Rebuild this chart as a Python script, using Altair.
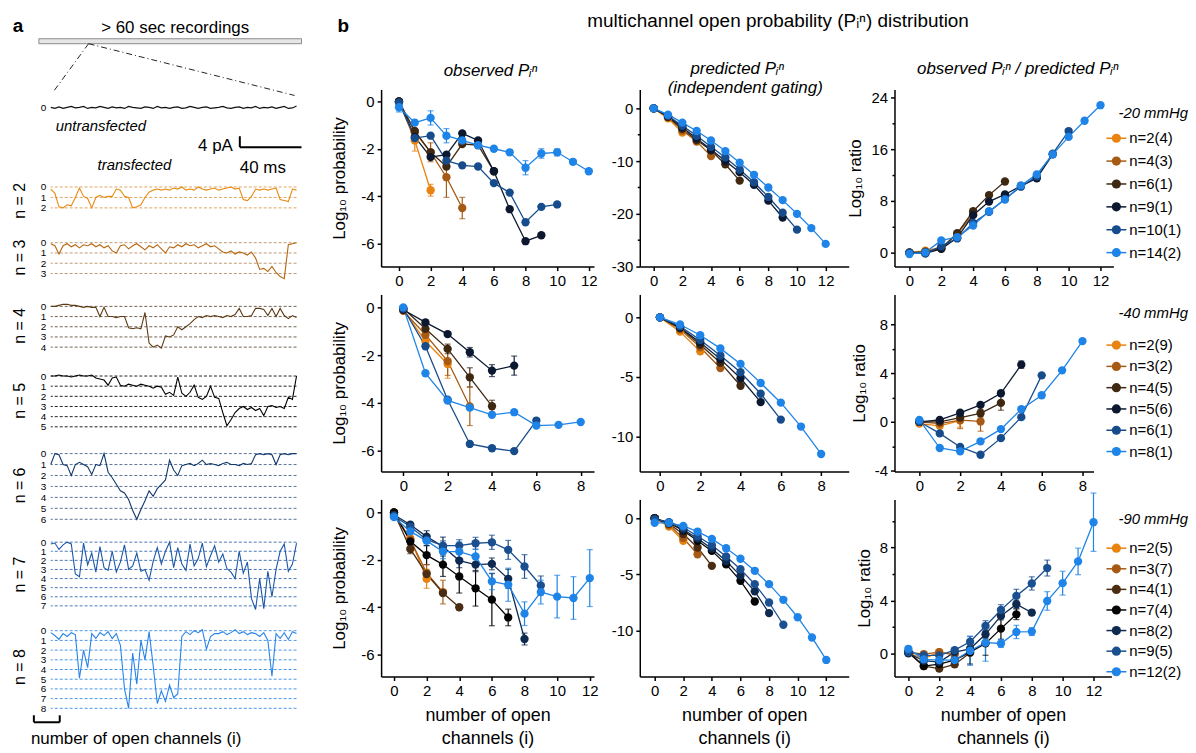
import altair as alt
import pandas as pd

FONT = "Liberation Sans"

# ---------------- panel a : traces (number of open channels vs time, ms) ----------------
T_END = 165
UNT = [0.0, 0.1, -0.05, 0.1, 0.0, -0.1, 0.05, 0.0, -0.1, 0.1, 0.0, 0.05, -0.1, 0.0, 0.1, -0.05,
       0.05, 0.0, 0.1, -0.1, 0.0, 0.05, 0.1, -0.05, 0.0, 0.1, -0.1, 0.05, 0.0, 0.1, 0.0, -0.05,
       0.1, 0.05, -0.1, 0.0, 0.1, 0.0, -0.05, 0.1, 0.05, 0.0, -0.1, 0.05, 0.1, 0.0, -0.05, 0.1,
       0.0, 0.05, -0.1, 0.1, 0.0, 0.05, -0.05, 0.1, 0.0, -0.1, 0.1, 0.05, -0.15]
TR2 = [0.2, 0.6, 1.9, 2.0, 1.7, 1.8, 1.0, 0.1, 0.9, 1.1, 2.0, 1.0, 0.8, 1.0, 0.9, 0.9, 0.2, 0.3,
       0.9, 1.0, 2.0, 1.9, 1.7, 1.0, 0.5, 0.3, 0.2, 0.3, 0.2, 0.3, 0.1, 0.2, 0.0, 0.3, 0.2, 0.3,
       0.0, 0.2, 0.3, 0.2, 0.1, 0.3, 0.2, 0.1, 0.0, 0.2, 0.1, 1.2, 1.3, 0.9, 0.2, 0.3, 0.2, 0.3,
       0.2, 0.1, 1.2, 1.3, 1.4, 0.2, 0.3]
TR3 = [0.1, 0.3, 1.1, 0.3, 0.1, 0.4, 0.2, 0.5, 0.2, 0.3, 0.1, 0.4, 0.2, 0.5, 0.3, 0.8, 1.0, 0.3,
       0.2, 0.6, 0.3, 0.1, 0.4, 0.7, 0.3, 0.5, 0.2, 0.6, 1.0, 0.4, 0.5, 0.2, 0.4, 0.1, 0.3, 0.2,
       0.5, 0.3, 0.1, 0.4, 0.3, 0.6, 0.9, 1.0, 0.8, 1.1, 0.9, 1.0, 1.2, 0.9, 1.5, 2.6, 2.5, 2.8,
       2.3, 2.9, 3.3, 3.5, 0.2, 0.1, 0.0]
TR4 = [0.0, 0.0, -0.1, -0.2, -0.2, -0.1, -0.1, 0.0, 0.1, 0.0, 0.1, 0.1, 1.0, 0.1, 1.0, 1.0, 1.1,
       1.0, 1.0, 2.1, 2.2, 2.1, 2.2, 0.6, 3.6, 4.0, 3.8, 4.1, 2.9, 3.0, 2.8, 2.0, 2.3, 2.0, 1.7,
       1.3, 1.0, 1.1, 0.9, 1.0, 0.9, 1.0, 1.1, 0.9, 1.0, 0.8, 0.2, 1.0, 1.0, 0.9, 0.2, 0.2, 0.3,
       0.9, 0.2, 1.0, 0.2, 0.9, 1.2, 0.9, 1.1]
TR5 = [0.0, 0.0, -0.1, 0.0, 0.0, 0.1, 0.0, -0.1, 0.0, 0.0, -0.1, 0.2, 0.3, 0.4, 0.9, 0.2, 0.1,
       0.9, 1.0, 0.8, 0.9, 1.0, 0.8, 0.9, 1.0, 1.2, 1.0, 1.1, 1.8, 1.6, 1.9, 0.1, 1.7, 2.0, 1.6,
       0.9, 2.1, 2.3, 2.0, 1.0, 2.1, 2.2, 3.6, 4.9, 4.3, 3.6, 3.2, 3.0, 3.3, 3.1, 3.4, 3.2, 3.9,
       3.0, 2.9, 3.1, 3.0, 3.2, 2.1, 2.3, 0.0]
TR6 = [1.0, 0.0, 0.1, 1.0, 1.1, 2.0, 1.0, 0.8, 1.0, 1.2, 1.9, 1.0, 1.1, 0.0, 1.7, 2.2, 2.8, 3.4,
       3.6, 4.2, 5.2, 6.0, 5.1, 4.3, 3.4, 3.9, 3.2, 2.8, 2.4, 0.6, 1.5, 2.0, 1.1, 1.0, 0.9, 1.1,
       0.9, 0.6, 1.0, 0.9, 1.0, 1.1, 0.9, 0.8, 1.0, 1.0, 1.1, 0.9, 1.0, 0.9, 0.1, 0.0, 0.1, 0.0,
       0.1, 1.0, 0.1, 0.0, 0.1, 0.0, 0.0]
TR7 = [0.2, 0.1, 0.8, 0.3, 0.0, 0.2, 3.5, 3.8, 0.1, 2.5, 1.2, 3.3, 0.5, 2.8, 3.1, 1.0, 3.3, 2.2,
       0.3, 3.0, 2.6, 1.2, 3.2, 3.0, 4.2, 2.1, 0.6, 2.4, 1.0, 0.0, 2.8, 0.6, 2.4, 3.1, 0.2, 2.6,
       1.8, 0.1, 2.7, 1.5, 0.4, 2.2, 1.3, 2.9, 3.3, 4.0, 1.0, 3.4, 2.2, 6.2, 7.4, 4.0, 7.3, 3.2,
       6.0, 3.0, 1.0, 0.2, 3.2, 2.4, 0.1]
TR8 = [0.2, 0.5, 0.9, 0.3, 0.6, 0.2, 0.4, 4.9, 2.0, 3.8, 0.3, 0.8, 0.2, 0.5, 0.1, 0.8, 0.3, 1.5,
       6.0, 8.0, 2.3, 5.5, 1.0, 3.0, 0.1, 3.6, 7.5, 6.2, 7.3, 5.6, 6.9, 6.5, 0.6, 0.1, 0.4, 0.0,
       0.2, -0.1, 1.9, 0.6, 0.3, 0.3, 0.1, 0.4, 0.2, -0.1, 0.3, 0.1, 0.4, 0.2, 0.3, 0.6, 0.2, 1.0,
       4.7, 0.3, 0.8, 0.2, 0.9, 0.1, 0.3]

# ---------------- panel b data : -20 mmHg ----------------
LEG20 = ["n=2(4)", "n=4(3)", "n=6(1)", "n=9(1)", "n=10(1)", "n=14(2)"]
COL20 = ["#E8830F", "#A65A14", "#3F2812", "#0B1830", "#174C8C", "#1F84E8"]
OBS20 = {2: [0.0, -1.65, -3.75],
         4: [-0.05, -1.3, -2.15, -3.2, -4.5],
         6: [0.0, -1.25, -2.15, -2.75, -1.8, -1.85, -2.95],
         9: [0.0, -1.5, -2.35, -2.25, -1.35, -1.65, -2.95, -4.55, -5.9, -5.65],
         10: [-0.05, -1.55, -1.45, -2.5, -2.7, -2.75, -3.45, -3.85, -5.1, -4.45, -4.35],
         14: [-0.25, -0.9, -0.7, -1.45, -1.65, -1.85, -2.0, -2.15, -2.8, -2.2, -2.15, -2.55, -2.95]}
OBS20_ERR = {2: [0, 0.45, 0.25], 4: [0, 0.15, 0.4, 0.85, 0.45],
             14: [0.2, 0.1, 0.3, 0.3, 0.1, 0.1, 0.1, 0.1, 0.3, 0.2, 0.15, 0, 0]}
PRED20 = {2: [0, -1.9, -4.6],
          4: [0, -1.7, -4.2, -6.3, -9.05],
          6: [0, -1.6, -3.9, -6.0, -8.0, -10.6, -13.7],
          9: [0, -1.5, -3.6, -5.7, -7.8, -10.0, -12.1, -14.5, -17.5, -20.7],
          10: [0, -1.4, -3.3, -5.2, -7.3, -9.3, -11.6, -14.0, -16.8, -19.8, -23.0],
          14: [0, -1.2, -2.7, -4.3, -6.1, -8.1, -10.3, -12.6, -15.0, -17.4, -20.0, -22.7, -25.7]}
RATIO20 = {2: [0, 0.3, 0.8],
           4: [0, 0.2, 0.6, 2.9, 5.9],
           6: [0, 0.1, 0.7, 3.0, 6.4, 8.9, 11.0],
           9: [0, -0.1, 0.6, 2.3, 5.8, 7.9, 9.0, 10.3, 11.5, 15.2],
           10: [0, -0.1, 1.0, 2.2, 4.6, 6.3, 8.3, 10.2, 11.8, 15.3, 18.8],
           14: [-0.2, 0.05, 1.9, 2.4, 4.2, 6.4, 8.2, 10.4, 12.1, 15.2, 17.9, 20.4, 22.8]}
RATIO20_ERR = {2: [0, 0.3, 0.3]}

# ---------------- -40 mmHg ----------------
LEG40 = ["n=2(9)", "n=3(2)", "n=4(5)", "n=5(6)", "n=6(1)", "n=8(1)"]
COL40 = ["#E8830F", "#A65A14", "#3F2812", "#0B1830", "#174C8C", "#1F84E8"]
OBS40 = {2: [-0.1, -1.42, -2.37],
         3: [-0.15, -1.15, -2.25, -4.15],
         4: [-0.05, -0.9, -1.74, -2.93, -4.14],
         5: [-0.1, -0.63, -1.12, -1.88, -2.65, -2.44],
         6: [-0.05, -1.63, -3.87, -5.72, -5.9, -6.02, -4.74],
         8: [0.0, -2.76, -3.9, -4.2, -4.5, -4.39, -4.95, -4.92, -4.8]}
OBS40_ERR = {2: [0, 0.1, 0.6], 3: [0, 0.1, 0.6, 0.8], 4: [0, 0.1, 0.2, 0.4, 0.25],
             5: [0, 0.1, 0.1, 0.2, 0.25, 0.4]}
PRED40 = {2: [0, -1.2, -2.85],
          3: [0, -1.0, -2.5, -4.25],
          4: [0, -0.9, -2.3, -3.8, -5.73],
          5: [0, -0.85, -2.1, -3.5, -5.1, -7.1],
          6: [0, -0.75, -1.9, -3.2, -4.6, -6.4, -8.57],
          8: [0, -0.6, -1.5, -2.6, -3.9, -5.5, -7.15, -9.15, -11.45]}
RATIO40 = {2: [-0.15, -0.33, 0.1],
           3: [0, -0.15, 0.14, 0.03],
           4: [0, 0.0, 0.35, 0.7, 1.55],
           5: [0, 0.15, 0.74, 1.39, 2.34, 4.69],
           6: [0, -0.95, -2.07, -2.7, -1.34, 0.38, 3.81],
           8: [0.15, -2.15, -2.42, -1.6, -0.6, 1.04, 2.18, 4.22, 6.62]}
RATIO40_ERR = {2: [0, 0.2, 0.55], 3: [0, 0.1, 0.7, 0.8], 4: [0, 0.1, 0.2, 0.3, 0.6],
               5: [0, 0.1, 0.1, 0.1, 0.2, 0.3]}

# ---------------- -90 mmHg ----------------
LEG90 = ["n=2(5)", "n=3(7)", "n=4(1)", "n=7(4)", "n=8(2)", "n=9(5)", "n=12(2)"]
COL90 = ["#E8830F", "#A65A14", "#4A2C12", "#050505", "#0E2A50", "#1A4F90", "#1F84E8"]
OBS90 = {2: [-0.1, -1.1, -2.8],
         3: [0.0, -1.15, -2.55, -3.36],
         4: [0.0, -1.54, -2.6, -3.4, -4.0],
         7: [0.0, -1.22, -1.8, -2.2, -2.7, -3.2, -3.68, -4.43],
         8: [-0.1, -0.52, -1.02, -1.44, -2.03, -2.2, -2.17, -2.8, -5.34],
         9: [-0.15, -0.6, -1.15, -1.4, -1.4, -1.3, -1.26, -1.58, -2.28, -3.08],
         12: [-0.2, -0.8, -1.2, -1.65, -1.65, -1.86, -2.91, -3.05, -4.27, -3.36, -3.55, -3.61, -2.77]}
OBS90_ERR = {2: [0, 0.2, 0.4], 3: [0, 0.2, 0.35, 0.5], 4: [0, 0.2, 0.1, 0.1, 0.1],
             7: [0, 0.2, 0.4, 0.5, 0.7, 0.75, 1.1, 0.35],
             8: [0, 0.1, 0.25, 0.4, 0.3, 0.3, 0.25, 0.4, 0.25],
             9: [0, 0.1, 0.1, 0.2, 0.25, 0.25, 0.3, 0.4, 0.5, 0.4],
             12: [0, 0.2, 0.2, 0.3, 0.4, 0.3, 0.35, 0.7, 0.5, 0.5, 0.9, 0.9, 1.2]}
PRED90 = {2: [0, -0.74, -2.0],
          3: [0, -0.6, -1.75, -3.2],
          4: [0, -0.5, -1.4, -2.6, -4.23],
          7: [0, -0.4, -1.1, -2.0, -2.9, -4.1, -5.56, -7.4],
          8: [0, -0.4, -1.0, -1.8, -2.7, -3.8, -5.1, -6.5, -8.43],
          9: [-0.1, -0.35, -0.8, -1.6, -2.4, -3.4, -4.53, -5.86, -7.49, -9.47],
          12: [-0.4, -0.4, -0.68, -1.18, -1.83, -2.66, -3.6, -4.67, -5.86, -7.25, -8.8, -10.6, -12.6]}
RATIO90 = {2: [0.05, -0.4, 0.1],
           3: [0.1, -0.05, 0.1, -0.1],
           4: [0.05, -0.96, -1.14, -0.83, 0.05],
           7: [0.1, -0.95, -0.8, -0.5, 0.1, 0.76, 1.87, 2.95],
           8: [0.0, -0.55, -0.65, 0.1, 0.35, 1.44, 2.83, 3.71, 3.08],
           9: [0.1, -0.15, -0.15, 0.25, 0.88, 2.07, 3.28, 4.34, 5.28, 6.44],
           12: [0.35, -0.45, -0.5, -0.5, 0.2, 0.81, 0.75, 1.62, 1.65, 3.96, 5.3, 6.94, 9.9]}
RATIO90_ERR = {2: [0, 0.2, 0.2], 3: [0, 0.2, 0.2, 0.2], 4: [0, 0.2, 0.2, 0.2, 0.2],
               7: [0, 0.2, 0.3, 0.3, 0.9, 0.9, 0.8, 0.4],
               8: [0, 0.1, 0.1, 0.2, 0.3, 0.3, 0.3, 0.3, 0.2],
               9: [0, 0.1, 0.1, 0.2, 0.4, 0.4, 0.4, 0.5, 0.5, 0.6],
               12: [0, 0.2, 0.3, 0.3, 1.1, 1.4, 0.3, 0.5, 0.3, 0.7, 0.9, 1.0, 2.2]}

X12 = [0, 2, 4, 6, 8, 10, 12]
X8 = [0, 2, 4, 6, 8]

ONE = pd.DataFrame({"z": [0]})
PI = "P\u1d62\u207f"


def txt(s, x, y, size=15, weight="normal", style="normal", align="center", opacity=1):
    return alt.Chart(ONE).mark_text(text=s, fontSize=size, fontWeight=weight, fontStyle=style,
                                    align=align, baseline="middle", color="black",
                                    opacity=opacity).encode(x=alt.value(x), y=alt.value(y))


def seg(x1, y1, x2, y2, dash=None, width=1.5, color="black"):
    kw = dict(strokeWidth=width, color=color)
    if dash:
        kw["strokeDash"] = dash
    return alt.Chart(ONE).mark_rule(**kw).encode(x=alt.value(x1), y=alt.value(y1),
                                                 x2=alt.value(x2), y2=alt.value(y2))


# ---------------- panel a construction ----------------
WA = 247
header_a = alt.layer(
    txt("a", -33, -64, size=19, weight="bold"),
    txt("> 60 sec recordings", 125, -62, size=17),
    alt.Chart(ONE).mark_rect(fill="#e6e6e6", stroke="#8a8a8a", strokeWidth=1).encode(
        x=alt.value(-12), x2=alt.value(252), y=alt.value(-51), y2=alt.value(-46)),
    seg(38, -46, 2, 3, dash=[6, 3, 1, 3], width=1, color="#222"),
    seg(38, -46, 245, 6, dash=[6, 3, 1, 3], width=1, color="#222"),
).properties(width=WA, height=9)


def trace_chart(vals, n, color, dash_color, dom, h, title=None):
    dt = T_END / (len(vals) - 1)
    df = pd.DataFrame({"t": [k * dt for k in range(len(vals))], "v": vals})
    ys = alt.Scale(domain=dom, reverse=True, nice=False, zero=False)
    xs = alt.Scale(domain=[0, T_END], nice=False, zero=False)
    yax = alt.Axis(values=list(range(n + 1)), title=title, domain=False, ticks=False,
                   labelFontSize=10, labelPadding=5, titleFontSize=16, titlePadding=13,
                   labelExpr="datum.value", labelOverlap=False, labelFlush=False, grid=False)
    layers = []
    if n > 0:
        lv = pd.DataFrame({"lvl": list(range(n + 1))})
        layers.append(alt.Chart(lv).mark_rule(color=dash_color, strokeDash=[3, 2],
                                               strokeWidth=1).encode(
            y=alt.Y("lvl:Q", scale=ys, axis=yax)))
    layers.append(alt.Chart(df).mark_line(color=color, strokeWidth=1.1).encode(
        x=alt.X("t:Q", scale=xs, axis=None), y=alt.Y("v:Q", scale=ys, axis=yax)))
    return alt.layer(*layers).properties(width=WA, height=h)


unt = trace_chart(UNT, 0, "#111111", "#111111", [-0.9, 0.9], 18)
mid_a = alt.layer(
    txt("untransfected", 5, 10, size=15, style="italic", align="left"),
    txt("4 pA", 183, 30, size=17, align="right"),
    seg(190, 20, 190, 31, width=2),
    seg(190, 31, 252, 31, width=2),
    txt("40 ms", 190, 52, size=17, align="left"),
    txt("transfected", 47, 49, size=15, style="italic", align="left"),
).properties(width=WA, height=60)

tr = [
    trace_chart(TR2, 2, "#E8890F", "#E0A460", [-1.05, 3.62], 49, "n = 2"),
    trace_chart(TR3, 3, "#B8650F", "#BF9A76", [-1.74, 4.55], 65, "n = 3"),
    trace_chart(TR4, 4, "#5E3B14", "#736454", [-1.66, 5.37], 72, "n = 4"),
    trace_chart(TR5, 5, "#000000", "#222222", [-1.47, 6.27], 79, "n = 5"),
    trace_chart(TR6, 6, "#11386B", "#5C7396", [-1.27, 7.0], 91, "n = 6"),
    trace_chart(TR7, 7, "#1C57A8", "#4A78B8", [-1.31, 8.31], 88, "n = 7"),
    trace_chart(TR8, 8, "#2A84E8", "#4C95E8", [-1.33, 8.72], 98, "n = 8"),
]
footer_a = alt.layer(
    seg(-17, 7, 9, 7, width=2),
    seg(-17, 0, -17, 7, width=2),
    seg(9, 0, 9, 7, width=2),
    txt("number of open channels (i)", -20, 24, size=17, align="left"),
).properties(width=WA, height=35)

panel_a = alt.vconcat(header_a, unt, mid_a, *tr, footer_a, spacing=0, bounds="flush")

# ---------------- panel b construction ----------------
H = 178


def make_df(vals, errs, labels, colors):
    rows = []
    for lab, c, (n, v) in zip(labels, colors, vals.items()):
        e = (errs or {}).get(n, [0] * len(v))
        for i, (val, er) in enumerate(zip(v, e)):
            rows.append({"i": i, "v": val, "lo": val - er, "hi": val + er, "err": er,
                         "s": lab, "c": c})
    return pd.DataFrame(rows)


COLOR = alt.Color("c:N", scale=None)


def panel(vals, errs, labels, colors, w, xdom, ydom, xt, yt, ytitle=None, xtitle=None,
          minor=None, tpad=12, extras=()):
    df = make_df(vals, errs, labels, colors)
    xs = alt.Scale(domain=xdom, nice=False, zero=False)
    ys = alt.Scale(domain=ydom, nice=False, zero=False)
    xax = alt.Axis(values=xt, title=xtitle, labelExpr="datum.value", labelFlush=False,
                   titlePadding=8, titleLineHeight=23, titleFontSize=18)
    yax = alt.Axis(values=yt, title=ytitle, labelExpr="datum.value", labelFlush=False,
                   orient="left", titlePadding=tpad)
    X = alt.X("i:Q", scale=xs, axis=xax)
    base = alt.Chart(df)
    layers = [base.mark_line(strokeWidth=1.3).encode(x=X, y=alt.Y("v:Q", scale=ys, axis=yax),
                                                     color=COLOR, detail="s:N")]
    if minor:
        layers.append(base.mark_point(opacity=0).encode(
            x=X, y=alt.Y("v:Q", scale=ys, axis=alt.Axis(values=minor, labels=False, domain=False,
                                                        tickSize=2.5, title=None, orient="left"))))
    edf = df[df["err"] > 0]
    if len(edf):
        eb = alt.Chart(edf)
        ylo = alt.Y("lo:Q", scale=ys, axis=None)
        yhi = alt.Y("hi:Q", scale=ys, axis=None)
        layers += [
            eb.mark_rule(strokeWidth=1.2).encode(x=X, y=ylo, y2="hi:Q", color=COLOR),
            eb.mark_tick(orient="horizontal", size=6, thickness=1.2).encode(x=X, y=ylo, color=COLOR),
            eb.mark_tick(orient="horizontal", size=6, thickness=1.2).encode(x=X, y=yhi, color=COLOR),
        ]
    layers.append(base.mark_circle(size=70, opacity=1).encode(
        x=X, y=alt.Y("v:Q", scale=ys, axis=None), color=COLOR))
    layers += list(extras)
    return alt.layer(*layers).resolve_scale(y="independent").resolve_axis(
        y="independent").properties(width=w, height=H)


def legend_layers(labels, colors, dom, title, ty):
    ldf = pd.DataFrame({"s": labels, "c": colors, "idx": list(range(len(labels)))})
    ly = alt.Y("idx:Q", scale=alt.Scale(domain=dom, reverse=True, nice=False, zero=False),
               axis=None)
    c = alt.Chart(ldf)
    return [
        c.mark_rule(strokeWidth=1.5).encode(x=alt.value(213), x2=alt.value(233), y=ly, color=COLOR),
        c.mark_circle(size=85, opacity=1).encode(x=alt.value(223), y=ly, color=COLOR),
        c.mark_text(align="left", baseline="middle", fontSize=15, color="black").encode(
            x=alt.value(236), y=ly, text="s:N"),
        txt(title, 295, ty, size=15, style="italic", align="right"),
    ]


LOGP = "Log\u2081\u2080 probability"
LOGR = "Log\u2081\u2080 ratio"
XT = ["number of open", "channels (i)"]

cells = [
    panel(OBS20, OBS20_ERR, LEG20, COL20, 214, [-1.13, 12.33], [-6.97, 0.5], X12, [-6, -4, -2, 0],
          ytitle=LOGP,
          extras=[txt("b", -38, -64, size=19, weight="bold"),
                  txt("observed " + PI, 110, -19, size=17, style="italic")]),
    panel(PRED20, None, LEG20, COL20, 210, [-0.97, 13.61], [-30, 3.58], X12, [-30, -20, -10, 0],
          minor=[-25, -15, -5],
          extras=[txt("multichannel open probability (" + PI + ") distribution", 139, -69, size=19),
                  txt("predicted " + PI, 98, -21, size=17, style="italic"),
                  txt("(independent gating)", 106, -1, size=17, style="italic")]),
    panel(RATIO20, RATIO20_ERR, LEG20, COL20, 220, [-0.94, 12.81], [-2.15, 25.23], X12,
          [0, 8, 16, 24], ytitle=LOGR, minor=[4, 12, 20], tpad=6,
          extras=[txt("observed " + PI + " / predicted " + PI, 124, -21, size=17, style="italic")]
          + legend_layers(LEG20, COL20, [-2.13, 5.61], "-20 mmHg", 24)),
    panel(OBS40, OBS40_ERR, LEG40, COL40, 214, [-1.0, 8.6], [-6.875, 0.54], X8, [-6, -4, -2, 0],
          ytitle=LOGP),
    panel(PRED40, None, LEG40, COL40, 210, [-1.0, 9.37], [-12.92, 1.92], X8, [-10, -5, 0]),
    panel(RATIO40, RATIO40_ERR, LEG40, COL40, 200, [-1.22, 8.54], [-4.08, 10.45], X8,
          [-4, 0, 4, 8], ytitle=LOGR, minor=[-2, 2, 6], tpad=6,
          extras=legend_layers(LEG40, COL40, [-2.38, 5.94], "-40 mmHg", 19)),
    panel(OBS90, OBS90_ERR, LEG90, COL90, 214, [-0.79, 12.26], [-6.92, 0.55], X12, [-6, -4, -2, 0],
          ytitle=LOGP, xtitle=XT),
    panel(PRED90, None, LEG90, COL90, 210, [-1.04, 13.57], [-14.07, 1.68], X12, [-10, -5, 0],
          xtitle=XT),
    panel(RATIO90, RATIO90_ERR, LEG90, COL90, 218, [-0.9, 13.16], [-1.74, 11.62], X12,
          [0, 4, 8], ytitle=LOGR, xtitle=XT, minor=[2, 6, 10], tpad=6,
          extras=legend_layers(LEG90, COL90, [-2.37, 6.23], "-90 mmHg", 20)),
]

panel_b = alt.concat(*cells, columns=3, spacing={"row": 28, "column": 46},
                     bounds="flush", align="each")

chart = alt.hconcat(panel_a, panel_b, spacing=28).properties(
    padding={"left": 3, "top": 2, "right": 0, "bottom": 0}
).configure_view(stroke=None).configure_axis(
    labelFont=FONT, titleFont=FONT, labelFontSize=15, titleFontSize=17, titleFontWeight="normal",
    labelColor="black", titleColor="black", domainColor="black", tickColor="black",
    domainWidth=1.5, tickWidth=1.5, tickSize=4, labelPadding=3, grid=False
).configure_text(font=FONT)

chart.save("out.html", embed_options={"renderer": "svg", "actions": False})
